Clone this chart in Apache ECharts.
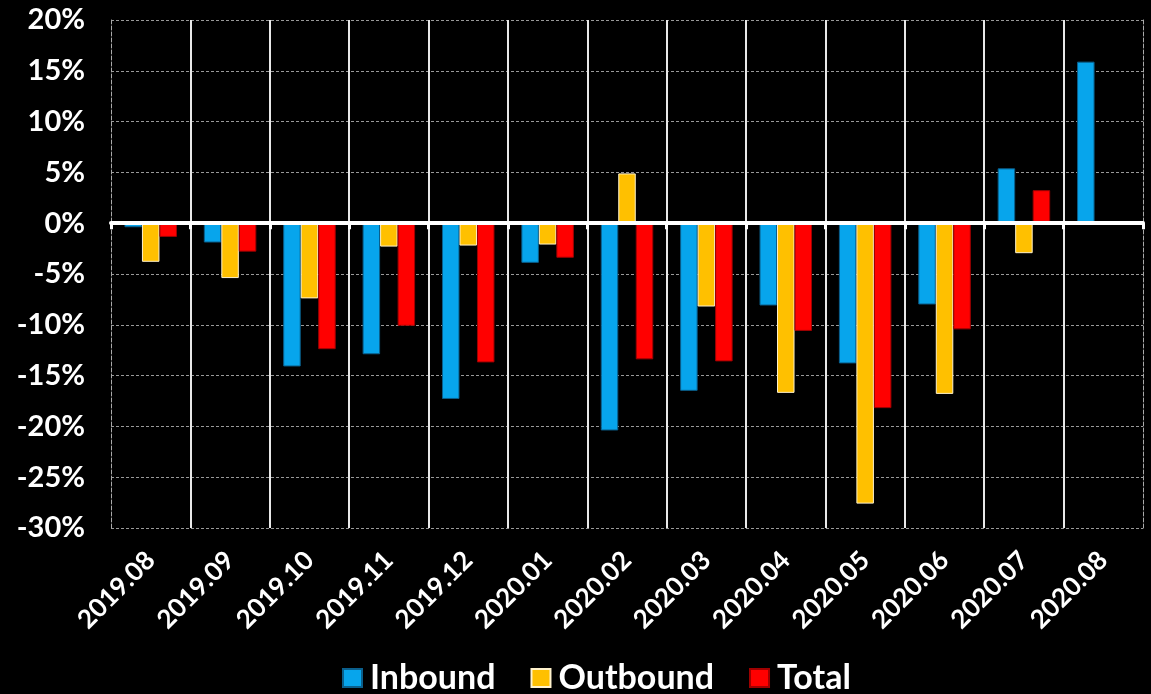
<!DOCTYPE html>
<html>
<head>
<meta charset="utf-8">
<script src="https://cdn.jsdelivr.net/npm/echarts@6/dist/echarts.min.js"></script>
<style>
  html, body { margin: 0; padding: 0; background: #000; }
  #chart { width: 1151px; height: 694px; }
</style>
</head>
<body>
<div id="chart"></div>
<script>
  var months = ['2019.08', '2019.09', '2019.10', '2019.11', '2019.12', '2020.01', '2020.02',
    '2020.03', '2020.04', '2020.05', '2020.06', '2020.07', '2020.08']
  var inbound = [-0.4, -1.9, -14.1, -12.9, -17.3, -3.9, -20.4, -16.5, -8.1, -13.8, -8.0, 5.4, 15.9]
  var outbound = [-3.8, -5.4, -7.4, -2.3, -2.2, -2.1, 4.9, -8.2, -16.7, -27.6, -16.8, -2.95, null]
  var total = [-1.35, -2.8, -12.4, -10.1, -13.7, -3.4, -13.4, -13.6, -10.6, -18.2, -10.45, 3.25, null]
  var yMin = -30, yMax = 20, yStep = 5

  var font = 'Lato'
  var chart = echarts.init(document.getElementById('chart'))

  function barSeries(name, data, color, border) {
    return {
      name: name,
      type: 'bar',
      xAxisIndex: 0,
      barWidth: 17.5,
      barGap: '0%',
      itemStyle: { color: color, borderColor: border, borderWidth: 1 },
      data: data
    }
  }

  var option = {
    backgroundColor: '#000',
    animation: false,
    grid: { left: 111, right: 8, top: 20, bottom: 166 },
    legend: {
      bottom: -1,
      left: 342,
      padding: 0,
      icon: 'rect',
      itemWidth: 19,
      itemHeight: 18,
      itemGap: 35,
      textStyle: { color: '#fff', fontSize: 34, fontWeight: 'bold', fontFamily: font, padding: [0, 0, 0, 3] },
      data: ['Inbound', 'Outbound', 'Total']
    },
    xAxis: [
      {
        type: 'category',
        position: 'bottom',
        data: months,
        axisLine: { show: false, onZero: false },
        axisTick: { show: false },
        axisLabel: {
          interval: 0,
          rotate: 45,
          margin: 28,
          color: '#fff',
          fontSize: 26,
          fontWeight: 'bold',
          fontFamily: font
        },
        splitLine: {
          show: true,
          interval: 0,
          showMinLine: false,
          showMaxLine: false,
          lineStyle: { color: '#e8e8e8', width: 2 }
        }
      },
      {
        type: 'category',
        position: 'bottom',
        data: months,
        z: 10,
        axisLine: { show: true, onZero: true, lineStyle: { color: '#fff', width: 4 } },
        axisTick: { show: true, interval: 0, length: 6, lineStyle: { color: '#fff', width: 3 } },
        axisLabel: { show: false },
        splitLine: { show: false }
      }
    ],
    yAxis: [
      {
        type: 'value',
        position: 'left',
        min: yMin,
        max: yMax,
        interval: yStep,
        axisLine: { show: true, lineStyle: { color: '#aaa', type: 'dashed', width: 1 } },
        axisTick: { show: false },
        axisLabel: {
          formatter: '{value}%',
          margin: 26,
          color: '#fff',
          fontSize: 29,
          fontWeight: 'bold',
          fontFamily: font
        },
        splitLine: { show: true, lineStyle: { color: '#999', type: [3, 2], width: 1 } }
      },
      {
        type: 'value',
        position: 'right',
        min: yMin,
        max: yMax,
        interval: yStep,
        axisLine: { show: true, lineStyle: { color: '#aaa', type: 'dashed', width: 1 } },
        axisTick: { show: false },
        axisLabel: { show: false },
        splitLine: { show: false }
      }
    ],
    series: [
      barSeries('Inbound', inbound, '#07A5EC', '#0a5f8c'),
      barSeries('Outbound', outbound, '#FFC000', '#fff2cc'),
      barSeries('Total', total, '#FF0000', '#a00000')
    ]
  }

  chart.setOption(option)
</script>
</body>
</html>
